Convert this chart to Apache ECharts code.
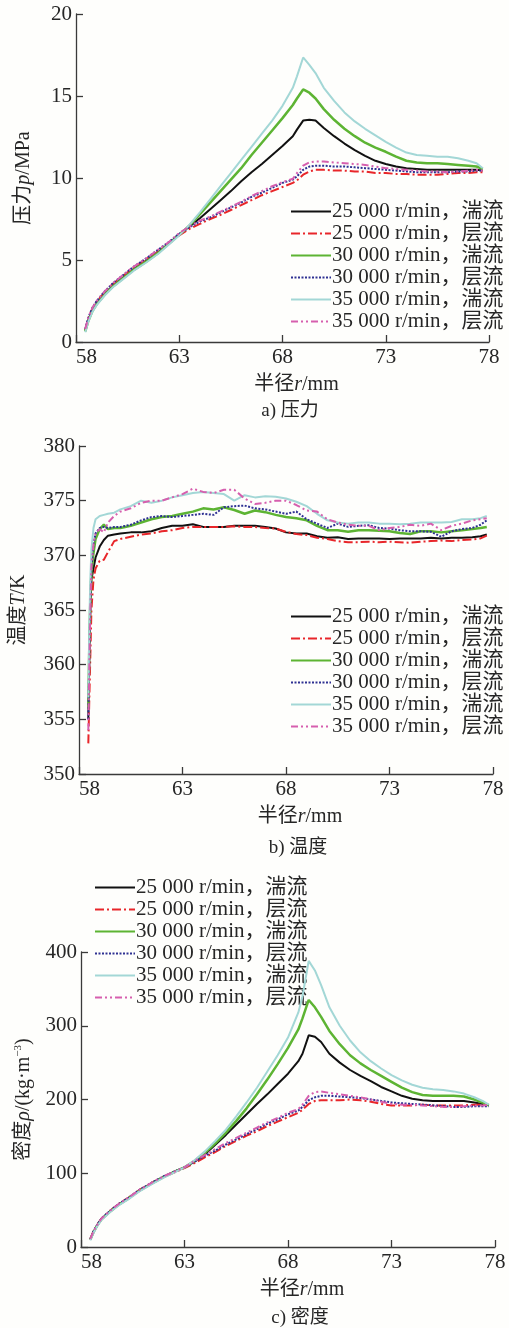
<!DOCTYPE html>
<html>
<head>
<meta charset="utf-8">
<title>转速与流态对压力、温度、密度分布的影响</title>
<script src="https://cdn.jsdelivr.net/npm/echarts@6/dist/echarts.min.js"></script>
<style>
  html, body { margin: 0; padding: 0; background: #fefefc; }
  #chart { width: 509px; height: 1328px; }
</style>
</head>
<body>
<div id="chart"></div>
<script>
// Series names (speed, flow model)
const seriesNames = [
  '25 000 r/min，湍流', '25 000 r/min，层流',
  '30 000 r/min，湍流', '30 000 r/min，层流',
  '35 000 r/min，湍流', '35 000 r/min，层流'
];

// Axis ticks
const radiusTicks = [58, 63, 68, 73, 78];
const pressureTicks = [0, 5, 10, 15, 20];
const temperatureTicks = [350, 355, 360, 365, 370, 375, 380];
const densityTicks = [0, 100, 200, 300, 400];

// Radius samples (mm) for pressure and density
const radiusPD = [58.45, 58.6, 58.8, 59.0, 59.4, 59.8, 60.3, 60.8, 61.4, 62.0, 62.5, 63.0,
  63.5, 64.0, 64.5, 65.0, 65.5, 66.0, 66.5, 67.0, 67.5, 68.0, 68.5, 68.7,
  69.0, 69.3, 69.6, 70.0, 70.5, 71.0, 71.5, 72.0, 72.5, 73.0, 73.5, 74.0,
  74.5, 75.0, 75.5, 76.0, 76.5, 77.0, 77.4, 77.7];

// Pressure p / MPa
const pTurb25 = [0.7, 1.35, 1.95, 2.35, 2.95, 3.45, 3.95, 4.45, 4.95, 5.5, 6.0, 6.55,
  7.05, 7.55, 8.1, 8.65, 9.2, 9.8, 10.35, 10.85, 11.4, 11.95, 12.55, 12.95,
  13.5, 13.55, 13.5, 13.05, 12.55, 12.1, 11.7, 11.35, 11.05, 10.85, 10.7, 10.6,
  10.55, 10.5, 10.5, 10.5, 10.5, 10.5, 10.5, 10.45];
const pLam25 = [0.75, 1.45, 2.05, 2.45, 3.05, 3.55, 4.05, 4.55, 5.05, 5.55, 6.0, 6.5,
  6.9, 7.2, 7.5, 7.75, 8.05, 8.35, 8.65, 8.95, 9.2, 9.45, 9.7, 9.85,
  10.2, 10.4, 10.5, 10.5, 10.45, 10.45, 10.4, 10.4, 10.3, 10.3, 10.25, 10.25,
  10.2, 10.2, 10.2, 10.25, 10.3, 10.3, 10.35, 10.35];
const pTurb30 = [0.65, 1.3, 1.9, 2.3, 2.9, 3.4, 3.9, 4.4, 4.9, 5.45, 6.0, 6.55,
  7.1, 7.8, 8.5, 9.2, 9.9, 10.6, 11.4, 12.15, 12.9, 13.65, 14.45, 14.85,
  15.4, 15.2, 14.85, 14.2, 13.55, 13.0, 12.55, 12.15, 11.85, 11.6, 11.3, 11.05,
  10.95, 10.9, 10.9, 10.85, 10.8, 10.75, 10.7, 10.55];
const pLam30 = [0.8, 1.5, 2.1, 2.5, 3.1, 3.6, 4.1, 4.6, 5.1, 5.65, 6.1, 6.6,
  7.0, 7.35, 7.6, 7.9, 8.2, 8.5, 8.85, 9.1, 9.4, 9.7, 9.9, 10.1,
  10.5, 10.7, 10.75, 10.75, 10.7, 10.7, 10.65, 10.6, 10.55, 10.5, 10.45, 10.4,
  10.35, 10.35, 10.35, 10.35, 10.4, 10.4, 10.45, 10.45];
const pTurb35 = [0.6, 1.25, 1.85, 2.25, 2.85, 3.35, 3.85, 4.35, 4.85, 5.4, 5.95, 6.5,
  7.15, 7.9, 8.7, 9.5, 10.3, 11.1, 11.9, 12.7, 13.5, 14.4, 15.5, 16.2,
  17.35, 16.9, 16.4, 15.5, 14.7, 14.0, 13.45, 13.0, 12.6, 12.2, 11.85, 11.55,
  11.4, 11.35, 11.3, 11.3, 11.2, 11.05, 10.9, 10.6];
const pLam35 = [0.8, 1.5, 2.1, 2.5, 3.1, 3.6, 4.1, 4.6, 5.1, 5.65, 6.1, 6.65,
  7.05, 7.4, 7.65, 7.95, 8.25, 8.55, 8.9, 9.2, 9.5, 9.75, 9.95, 10.3,
  10.75, 10.95, 11.0, 11.0, 10.95, 10.9, 10.85, 10.8, 10.7, 10.6, 10.55, 10.5,
  10.45, 10.4, 10.4, 10.35, 10.4, 10.45, 10.5, 10.45];

// Density ρ / (kg·m^-3)
const dTurb25 = [10, 20, 30, 38, 48, 57, 66, 76, 86, 95, 102, 108,
  116, 126, 139, 152, 166, 180, 194, 207, 221, 235, 252, 262,
  287, 285, 278, 262, 250, 240, 232, 225, 217, 211, 205, 201,
  199, 198, 198, 198, 198, 196, 194, 192];
const dLam25 = [11, 21, 31, 39, 49, 58, 67, 77, 87, 95, 101, 107,
  114, 122, 129, 137, 144, 151, 157, 164, 170, 176, 182, 186,
  194, 198, 199, 199, 199, 200, 199, 197, 194, 192, 192, 192,
  193, 192, 192, 192, 192, 193, 193, 193];
const dTurb30 = [10, 20, 30, 38, 48, 57, 66, 76, 86, 95, 102, 108,
  117, 128, 141, 155, 171, 188, 207, 227, 248, 270, 295, 310,
  335, 325, 312, 293, 275, 260, 249, 240, 232, 224, 216, 210,
  206, 205, 205, 205, 204, 200, 196, 192];
const dLam30 = [11, 21, 31, 39, 49, 58, 67, 77, 87, 96, 102, 108,
  116, 124, 131, 139, 146, 153, 160, 167, 173, 180, 185, 190,
  199, 203, 205, 205, 204, 203, 202, 200, 198, 196, 195, 194,
  193, 192, 191, 190, 190, 191, 191, 191];
const dTurb35 = [9, 19, 29, 37, 47, 56, 65, 75, 85, 94, 101, 108,
  118, 130, 144, 159, 177, 196, 216, 238, 260, 284, 318, 340,
  388, 375, 355, 325, 300, 280, 264, 252, 242, 233, 226, 220,
  216, 214, 213, 211, 208, 203, 198, 193];
const dLam35 = [11, 21, 31, 39, 49, 58, 67, 77, 87, 96, 102, 108,
  117, 125, 133, 141, 148, 155, 162, 169, 175, 182, 187, 193,
  205, 210, 211, 209, 207, 205, 203, 200, 197, 194, 193, 193,
  192, 191, 190, 190, 191, 192, 192, 193];

// Radius samples (mm) for temperature
const radiusT = [58.45, 58.5, 58.55, 58.6, 58.7, 58.8, 59.0, 59.2, 59.4, 59.7,
  60.0, 60.5, 61.0, 61.5, 62.0, 62.5, 63.0, 63.5, 64.0, 64.5, 65.0, 65.5,
  66.0, 66.5, 67.0, 67.5, 68.0, 68.5, 69.0, 69.5, 70.0, 70.5, 71.0, 71.5,
  72.0, 72.5, 73.0, 73.5, 74.0, 74.5, 75.0, 75.5, 76.0, 76.5, 77.0, 77.4, 77.7];

// Temperature T / K
const tTurb25 = [355, 361, 365.5, 367.8, 368.8, 369.8, 370.8, 371.4, 371.8, 371.9,
  372.0, 372.1, 372.1, 372.2, 372.5, 372.7, 372.7, 372.85, 372.6, 372.6, 372.6, 372.7,
  372.7, 372.7, 372.6, 372.45, 372.1, 372.0, 372.0, 371.75, 371.6, 371.65, 371.5, 371.55,
  371.55, 371.55, 371.5, 371.55, 371.55, 371.55, 371.6, 371.55, 371.6, 371.6, 371.65, 371.75, 371.9];
const tLam25 = [352.8, 357, 361, 365, 367.8, 368.8, 369.5, 369.6, 370.3, 371.3,
  371.5, 371.7, 371.9, 372.0, 372.2, 372.3, 372.5, 372.6, 372.6, 372.6, 372.6, 372.65,
  372.6, 372.6, 372.5, 372.45, 372.15, 371.95, 371.85, 371.6, 371.5, 371.3, 371.2, 371.2,
  371.25, 371.2, 371.25, 371.2, 371.15, 371.25, 371.3, 371.35, 371.3, 371.4, 371.45, 371.55, 371.8];
const tTurb30 = [356, 362, 366, 368.5, 370.2, 371.5, 372.4, 372.8, 372.4, 372.5,
  372.5, 372.7, 373.0, 373.3, 373.5, 373.6, 373.8, 374.0, 374.3, 374.2, 374.4, 374.15,
  373.8, 374.1, 373.95, 373.7, 373.5, 373.4, 373.2, 372.7, 372.3, 372.3, 372.15, 372.3,
  372.3, 372.25, 372.2, 372.05, 371.95, 372.2, 372.2, 372.1, 372.2, 372.3, 372.4, 372.5, 372.6];
const tLam30 = [355, 361, 366, 369, 371, 372, 372.5, 372.6, 372.5, 372.6,
  372.6, 372.8, 373.2, 373.5, 373.6, 373.5, 373.6, 373.7, 373.8, 373.7, 374.4, 374.5,
  374.55, 374.3, 374.2, 374.0, 373.8, 374.0, 373.3, 372.9, 372.5, 372.9, 372.6, 372.7,
  372.75, 372.5, 372.45, 372.3, 372.2, 372.2, 372.15, 371.7, 372.2, 372.4, 372.5, 372.8, 373.2];
const tTurb35 = [357, 364, 368, 370.5, 372.5, 373.3, 373.6, 373.7, 373.8, 373.9,
  374.2, 374.5, 375.0, 374.8, 375.0, 375.3, 375.5, 375.7, 375.8, 375.7, 375.6, 375.0,
  375.5, 375.3, 375.4, 375.35, 375.2, 374.9, 374.5, 373.8, 373.2, 373.0, 372.9, 373.0,
  373.0, 372.9, 372.9, 372.85, 372.9, 373.0, 373.0, 373.0, 373.05, 373.3, 373.3, 373.4, 373.6];
const tLam35 = [354, 360, 365, 369, 371, 372, 372.4, 372.1, 373.0, 373.6,
  374.0, 374.3, 374.8, 375.0, 375.0, 375.3, 375.6, 376.1, 375.8, 375.7, 376.0, 376.0,
  375.2, 374.7, 374.8, 375.0, 375.0, 374.6, 374.1, 374.0, 373.3, 373.0, 372.8, 372.7,
  372.7, 372.3, 372.5, 372.6, 372.8, 372.7, 372.9, 372.3, 372.7, 372.9, 373.2, 373.3, 373.4];

const FONT = "'Liberation Serif','Times New Roman','Noto Sans CJK SC',serif";
const TEXT = '#262626';
const AXIS = '#3a3a3a';

// One line style per speed / flow model
const lineStyles = [
  { color: '#111111', width: 2, type: 'solid' },
  { color: '#e8262a', width: 2, type: [9, 3, 2, 3] },
  { color: '#5db433', width: 2.5, type: 'solid' },
  { color: '#2e3192', width: 2, type: [2, 1.5] },
  { color: '#a3d7d6', width: 2, type: 'solid' },
  { color: '#d65fae', width: 2, type: [7, 3, 2, 3, 2, 3] }
];

const panels = [
  { x: radiusPD, sets: [pTurb25, pLam25, pTurb30, pLam30, pTurb35, pLam35], ticks: pressureTicks },
  { x: radiusT,  sets: [tTurb25, tLam25, tTurb30, tLam30, tTurb35, tLam35], ticks: temperatureTicks },
  { x: radiusPD, sets: [dTurb25, dLam25, dTurb30, dLam30, dTurb35, dLam35], ticks: densityTicks }
];

const grids = [
  { left: 76, top: 14, width: 413, height: 328 },
  { left: 79, top: 446, width: 414, height: 328 },
  { left: 81, top: 952, width: 414, height: 295 }
];

const yNames = ['压力{i|p}/MPa', '温度{i|T}/K', '密度{i|ρ}/(kg·m{s|−3})'];
const yNameGaps = [42, 50, 47];

const richName = {
  i: { fontStyle: 'italic', fontSize: 20, fontFamily: FONT, color: TEXT },
  s: { fontSize: 11, fontFamily: FONT, color: TEXT, verticalAlign: 'top', padding: [0, 0, 10, 0] }
};

const xAxes = grids.map((g, k) => ({
  type: 'value', gridIndex: k,
  min: radiusTicks[0], max: radiusTicks[radiusTicks.length - 1],
  interval: radiusTicks[1] - radiusTicks[0],
  name: '半径{i|r}/mm', nameLocation: 'middle', nameGap: 33,
  nameTextStyle: { fontSize: 20, fontFamily: FONT, color: TEXT, padding: [0, 0, 0, 28], rich: richName },
  axisLine: { lineStyle: { color: AXIS, width: 1.3 } },
  axisTick: { inside: true, length: 7, lineStyle: { color: AXIS, width: 1.3 } },
  axisLabel: { fontSize: 21, fontFamily: FONT, color: TEXT, margin: 5, alignMinLabel: 'left' },
  splitLine: { show: false }
}));

const yAxes = grids.map((g, k) => {
  const t = panels[k].ticks;
  return {
    type: 'value', gridIndex: k,
    min: t[0], max: t[t.length - 1], interval: t[1] - t[0],
    name: yNames[k], nameLocation: 'middle', nameGap: yNameGaps[k],
    nameTextStyle: { fontSize: 20, fontFamily: FONT, color: TEXT, rich: richName },
    axisLine: { show: true, lineStyle: { color: AXIS, width: 1.3 } },
    axisTick: { show: true, inside: true, length: 7, lineStyle: { color: AXIS, width: 1.3 } },
    axisLabel: { fontSize: 21, fontFamily: FONT, color: TEXT, margin: 4 },
    splitLine: { show: false }
  };
});

const series = [];
panels.forEach((p, k) => {
  p.sets.forEach((vals, i) => {
    series.push({
      name: seriesNames[i], type: 'line',
      xAxisIndex: k, yAxisIndex: k,
      data: p.x.map((r, j) => [r, vals[j]]),
      symbol: 'none', smooth: false, animation: false,
      lineStyle: lineStyles[i], itemStyle: { color: lineStyles[i].color },
      z: 2 + i
    });
  });
});

// Legend keys show only the line sample (the point marker is hidden)
const legendBase = {
  orient: 'vertical', data: seriesNames,
  itemWidth: 40, itemHeight: 14, itemGap: 1,
  selectedMode: false,
  itemStyle: { opacity: 0 },
  textStyle: { fontSize: 21, fontFamily: FONT, color: TEXT, padding: [0, 0, 0, -4] }
};
const legends = [
  Object.assign({}, legendBase, { left: 285, top: 196 }),
  Object.assign({}, legendBase, { left: 285, top: 601 }),
  Object.assign({}, legendBase, { left: 89, top: 872 })
];

const captions = [
  { text: 'a) 压力', x: 290, y: 411 },
  { text: 'b) 温度', x: 298, y: 848 },
  { text: 'c) 密度', x: 300, y: 1318 }
];

const chart = echarts.init(document.getElementById('chart'), null, { renderer: 'canvas' });
chart.setOption({
  backgroundColor: '#fefefc',
  animation: false,
  grid: grids,
  xAxis: xAxes,
  yAxis: yAxes,
  legend: legends,
  series: series,
  graphic: captions.map(c => ({
    type: 'text', x: c.x, y: c.y,
    style: { text: c.text, fontSize: 19, fontFamily: FONT, fill: TEXT, textAlign: 'center', textVerticalAlign: 'middle' }
  }))
});
</script>
</body>
</html>
